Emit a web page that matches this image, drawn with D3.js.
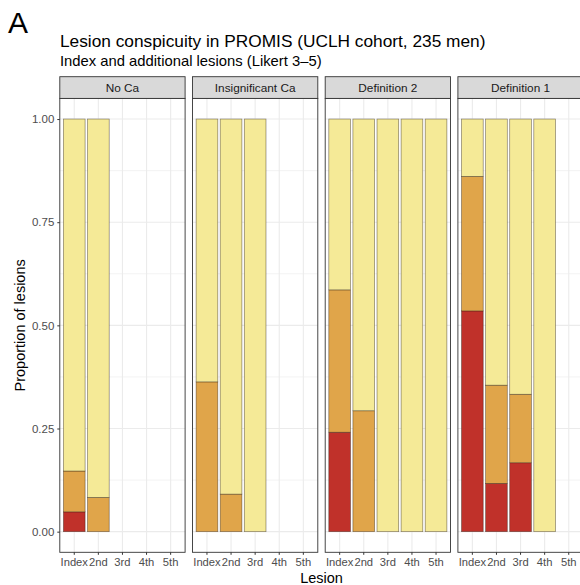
<!DOCTYPE html>
<html>
<head>
<meta charset="utf-8">
<script src="https://cdn.jsdelivr.net/npm/d3@7"></script>
<style>
body { margin: 0; background: #fff; }
svg { font-family: "Liberation Sans", Arial, sans-serif; }
</style>
</head>
<body>
<svg id="chart" width="580" height="585"></svg>
<script>
// facets, lesion order and conspicuity groups
var panels = ['No Ca', 'Insignificant Ca', 'Definition 2', 'Definition 1']
var lesions = ['Index', '2nd', '3rd', '4th', '5th']
var groups = ['high', 'mid', 'low']
var colours = ['#c0312a', '#e0a54a', '#f5ea97']
var yTicks = [0, 0.25, 0.5, 0.75, 1]

// proportion per group (high, mid, low) for each lesion present in each panel
var noCa = [[0.048, 0.099, 0.853], [0, 0.083, 0.917]]
var insigCa = [[0, 0.363, 0.637], [0, 0.091, 0.909], [0, 0, 1]]
var def2 = [[0.241, 0.345, 0.414], [0, 0.293, 0.707], [0, 0, 1], [0, 0, 1], [0, 0, 1]]
var def1 = [[0.535, 0.326, 0.139], [0.117, 0.238, 0.645], [0.167, 0.166, 0.667], [0, 0, 1]]
var panelData = [noCa, insigCa, def2, def1]

var svg = d3.select('#chart')
var left = 59.8, panelW = 125.3, gap = 7.4
var pTop = 98.4, pBottom = 552.3, stripTop = 76.7

var y = d3.scaleLinear().domain([-0.05, 1.05]).range([pBottom, pTop])
var x = d3.scaleBand().domain(lesions).paddingInner(0.1).paddingOuter(0.15)

// headings
svg.append('text').attr('x', 8).attr('y', 33).attr('font-size', 30).attr('fill', '#000').text('A')
svg.append('text').attr('x', 60).attr('y', 46.5).attr('font-size', 17.3).attr('fill', '#000')
	.text('Lesion conspicuity in PROMIS (UCLH cohort, 235 men)')
svg.append('text').attr('x', 60).attr('y', 66).attr('font-size', 14.8).attr('fill', '#000')
	.text('Index and additional lesions (Likert 3\u20135)')

panels.forEach(function(name, p)
{
	var x0 = left + p * (panelW + gap)
	x.range([x0, x0 + panelW])
	var g = svg.append('g')
	// grid
	var minor = [0.125, 0.375, 0.625, 0.875]
	g.selectAll('.minor').data(minor).enter().append('line')
		.attr('x1', x0).attr('x2', x0 + panelW)
		.attr('y1', function(d){return y(d)}).attr('y2', function(d){return y(d)})
		.attr('stroke', '#ebebeb').attr('stroke-width', 0.6)
	g.selectAll('.major').data(yTicks).enter().append('line')
		.attr('x1', x0).attr('x2', x0 + panelW)
		.attr('y1', function(d){return y(d)}).attr('y2', function(d){return y(d)})
		.attr('stroke', '#ebebeb').attr('stroke-width', 1.1)
	g.selectAll('.vgrid').data(lesions).enter().append('line')
		.attr('x1', function(d){return x(d) + x.bandwidth() / 2})
		.attr('x2', function(d){return x(d) + x.bandwidth() / 2})
		.attr('y1', pTop).attr('y2', pBottom)
		.attr('stroke', '#ebebeb').attr('stroke-width', 1.1)

	// stacked bars
	var rows = panelData[p]
	rows.forEach(function(vals, i)
	{
		var acc = 0
		var segs = vals.map(function(v, k)
		{
			var s = {y0: acc, y1: acc + v, k: k}
			acc += v
			return s
		}).filter(function(s){return s.y1 > s.y0})
		g.selectAll(null).data(segs).enter().append('rect')
			.attr('x', x(lesions[i]))
			.attr('width', x.bandwidth())
			.attr('y', function(d){return y(d.y1)})
			.attr('height', function(d){return y(d.y0) - y(d.y1)})
			.attr('fill', function(d){return colours[d.k]})
			.attr('stroke', 'rgba(40,30,20,0.55)').attr('stroke-width', 0.7)
	})

	// panel border
	g.append('rect').attr('x', x0).attr('y', pTop).attr('width', panelW).attr('height', pBottom - pTop)
		.attr('fill', 'none').attr('stroke', '#333').attr('stroke-width', 0.9)
	// strip
	g.append('rect').attr('x', x0).attr('y', stripTop).attr('width', panelW).attr('height', pTop - stripTop)
		.attr('fill', '#d9d9d9').attr('stroke', '#333').attr('stroke-width', 0.9)
	g.append('text').attr('x', x0 + panelW / 2).attr('y', (stripTop + pTop) / 2 + 4.2)
		.attr('text-anchor', 'middle').attr('font-size', 11.8).attr('fill', '#1a1a1a').text(name)

	// x axis
	var ax = g.append('g').attr('transform', 'translate(0,' + pBottom + ')')
		.call(d3.axisBottom(x).tickSize(2.5).tickPadding(3.5))
	ax.select('.domain').remove()
	ax.selectAll('line').attr('stroke', '#333')
	ax.selectAll('text').attr('font-size', 11.2).attr('fill', '#4d4d4d').attr('font-family', 'Liberation Sans')
})

// y axis
var ay = svg.append('g').attr('transform', 'translate(' + left + ',0)')
	.call(d3.axisLeft(y).tickValues(yTicks).tickFormat(d3.format('.2f')).tickSize(2.5).tickPadding(3))
ay.select('.domain').remove()
ay.selectAll('line').attr('stroke', '#333')
ay.selectAll('text').attr('font-size', 11.5).attr('fill', '#4d4d4d').attr('font-family', 'Liberation Sans')

svg.append('text').attr('transform', 'translate(24.5,' + ((pTop + pBottom) / 2) + ') rotate(-90)')
	.attr('text-anchor', 'middle').attr('font-size', 14.5).attr('fill', '#000').text('Proportion of lesions')
svg.append('text').attr('x', left + (4 * panelW + 3 * gap) / 2).attr('y', 582.5)
	.attr('text-anchor', 'middle').attr('font-size', 14.5).attr('fill', '#000').text('Lesion')
</script>
</body>
</html>
